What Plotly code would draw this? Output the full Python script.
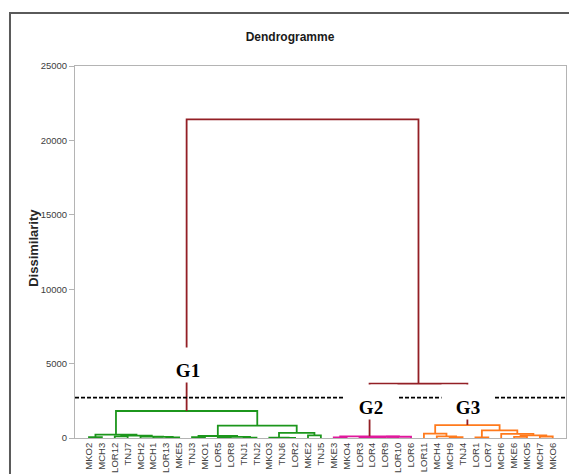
import plotly.graph_objects as go

# ---------------- data ----------------
leaves = ["MKO2", "MCH3", "LOR12", "TNJ7", "MCH2", "MCH1", "LOR13", "MKE5", "TNJ3",
          "MKO1", "LOR5", "LOR8", "TNJ1", "TNJ2", "MKO3", "TNJ6", "LOR2", "MKE2",
          "TNJ5", "MKE3", "MKO4", "LOR3", "LOR4", "LOR9", "LOR10", "LOR6", "LOR11",
          "MCH4", "MCH9", "TNJ4", "LOR1", "LOR7", "MCH6", "MKE6", "MKO5", "MCH7", "MKO6"]

# merges: node id -> (left child, right child, dissimilarity)
merge_ids = ["n%d" % i for i in range(36)]
merge_left = ["MKO2", "LOR12", "LOR13", "MCH1", "MCH2", "n1", "n0", "TNJ3", "LOR5", "TNJ1",
              "n8", "n7", "TNJ6", "MKO3", "MKE2", "n13", "n11", "n6",
              "MKE3", "LOR3", "n19", "n20", "n21", "n18",
              "MCH9", "MCH4", "LOR11", "LOR1", "MKE6", "MCH7", "n28", "MCH6", "n27", "n26",
              "n23", "n17"]
merge_right = ["MCH3", "TNJ7", "MKE5", "n2", "n3", "n4", "n5", "MKO1", "LOR8", "TNJ2",
               "n9", "n10", "LOR2", "n12", "TNJ5", "n14", "n15", "n16",
               "MKO4", "LOR4", "LOR9", "LOR10", "LOR6", "n22",
               "TNJ4", "n24", "n25", "LOR7", "MKO5", "MKO6", "n29", "n30", "n31", "n32",
               "n33", "n34"]
merge_height = [50, 110, 40, 70, 90, 160, 230, 60, 40, 30,
                80, 135, 15, 30, 180, 350, 835, 1815,
                40, 30, 50, 70, 85, 115,
                50, 110, 296, 40, 70, 100, 170, 282, 517, 870,
                3656, 21418]

cluster_roots = ["n17", "n23", "n33"]
cluster_labels = ["G1", "G2", "G3"]
threshold = 2720
y_ticks = [0, 5000, 10000, 15000, 20000, 25000]

# ---------------- styles ----------------
cluster_colors = ["#1c961c", "#e0189c", "#ff7a1c"]
link_color = "#931f25"

# ---------------- geometry from data ----------------
pos = {name: float(i) for i, name in enumerate(leaves)}
hgt = {name: 0.0 for name in leaves}
children = {}
for nid, l, r, h in zip(merge_ids, merge_left, merge_right, merge_height):
    pos[nid] = (pos[l] + pos[r]) / 2.0
    hgt[nid] = h
    children[nid] = (l, r)

def members(nid):
    out = {nid}
    if nid in children:
        for c in children[nid]:
            out |= members(c)
    return out

node_color = {}
for root, col in zip(cluster_roots, cluster_colors):
    for m in members(root):
        node_color[m] = col

segs = {}
for nid in merge_ids:
    l, r = children[nid]
    col = node_color.get(nid, link_color)
    xs = [pos[l], pos[l], pos[r], pos[r], None]
    ys = [hgt[l], hgt[nid], hgt[nid], hgt[r], None]
    segs.setdefault(col, ([], []))
    segs[col][0].extend(xs)
    segs[col][1].extend(ys)

fig = go.Figure()
for col in cluster_colors + [link_color]:
    if col in segs:
        fig.add_trace(go.Scatter(x=segs[col][0], y=segs[col][1], mode="lines",
                                 line=dict(color=col, width=1.8),
                                 hoverinfo="skip", showlegend=False))

# threshold line
fig.add_shape(type="line", xref="paper", x0=0, x1=1, yref="y", y0=threshold, y1=threshold,
              line=dict(color="black", width=1.8, dash="4px,2px"))

# cluster labels with white boxes
for root, lab in zip(cluster_roots, cluster_labels):
    ypos = 4886 if lab == "G1" else 2420
    fig.add_annotation(x=pos[root], y=ypos, xref="x", yref="y", text="<b>%s</b>" % lab,
                       showarrow=False, bgcolor="white", width=50, height=32,
                       valign="bottom", xshift=1,
                       font=dict(family="Liberation Serif, Times New Roman, serif",
                                 size=19, color="black"))

# y axis title
fig.add_annotation(text="<b>Dissimilarity</b>", xref="paper", yref="paper",
                   x=-0.0845, y=0.51, xanchor="center", yanchor="middle",
                   showarrow=False, textangle=-90,
                   font=dict(family="Liberation Sans, Arial, sans-serif", size=13, color="#262626"))

# outer chart frame
fig.add_shape(type="rect", xref="paper", yref="paper", x0=-0.1324, x1=1.3, y0=-0.3, y1=1.1426,
              line=dict(color="#5a5a5a", width=2), layer="below")

# the page adds an 8px body margin, so the figure is sized to sit on the same pixels
fig.update_layout(
    width=569, height=466,
    margin=dict(l=67, r=11, t=58, b=36, pad=0),
    paper_bgcolor="white", plot_bgcolor="white",
    title=dict(text="<b>Dendrogramme</b>", x=(290 - 75) / 491, xref="paper", xanchor="center",
               y=1 - 29 / 466, yref="container", yanchor="middle",
               font=dict(family="Liberation Sans, Arial, sans-serif", size=12, color="#1a1a1a")),
    showlegend=False,
)

fig.update_xaxes(range=[-1.087, 37.03], tickvals=list(range(len(leaves))), ticktext=leaves,
                 tickangle=-90, ticks="", showgrid=False, zeroline=False,
                 showline=True, mirror=True, linecolor="#b4b4b4", linewidth=1,
                 tickfont=dict(family="Liberation Sans, Arial, sans-serif", size=9.5, color="#404040"),
                 automargin=False)
fig.update_yaxes(range=[0, 25000], tickvals=y_ticks, ticktext=[str(v) for v in y_ticks],
                 ticks="outside", ticklen=5, tickcolor="#b4b4b4", showgrid=False, zeroline=False,
                 showline=True, mirror=True, linecolor="#b4b4b4", linewidth=1,
                 tickfont=dict(family="Liberation Sans Narrow, Arial Narrow, Liberation Sans, sans-serif",
                               size=9.5, color="#404040"),
                 automargin=False)

fig.write_html("out.html")
